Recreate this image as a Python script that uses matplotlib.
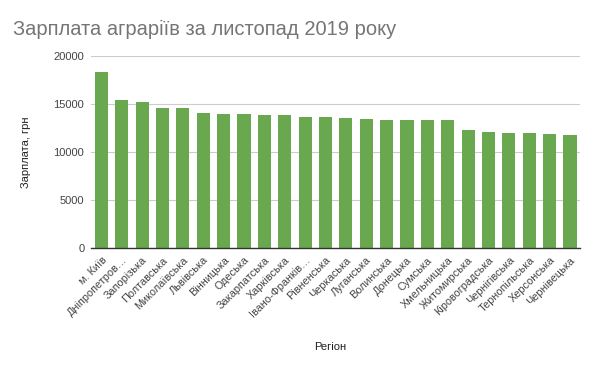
import matplotlib
matplotlib.use("Agg")
import matplotlib.pyplot as plt

regions = ["м. Київ", "Дніпропетров…", "Запорізька", "Полтавська", "Миколаївська",
           "Львівська", "Вінницька", "Одеська", "Закарпатська", "Харківська",
           "Івано-Франків…", "Рівненська", "Черкаська", "Луганська", "Волинська",
           "Донецька", "Сумська", "Хмельницька", "Житомирська", "Кіровоградська",
           "Чернігівська", "Тернопільська", "Херсонська", "Чернівецька"]
salary = [18350, 15450, 15250, 14600, 14600, 14050, 13950, 13950, 13850, 13850,
          13650, 13650, 13550, 13450, 13330, 13330, 13330, 13330, 12300, 12100,
          12000, 12000, 11900, 11800]
yticks = [0, 5000, 10000, 15000, 20000]

plt.rcParams['font.family'] = ['Liberation Sans', 'DejaVu Sans']
fig = plt.figure(figsize=(6, 3.71), dpi=100)
ax = fig.add_axes([0.152, 0.3315, 0.815, 0.5175])
x = list(range(len(regions)))
ax.bar(x, salary, width=0.64, color="#6aa84f", zorder=3)
ax.set_xlim(-0.5, len(regions) - 0.5)
ax.set_ylim(0, 20000)
ax.set_yticks(yticks)
ax.set_yticklabels([str(v) for v in yticks], fontsize=8, color="#444444")
ax.set_xticks(x)
ax.set_xticklabels(regions, rotation=45, ha="right", rotation_mode="anchor",
                   fontsize=7.8, color="#444444")
ax.tick_params(axis="both", length=0, pad=5)
ax.grid(axis="y", color="#cccccc", linewidth=0.8, zorder=0)
for s in ["top", "right", "left"]:
    ax.spines[s].set_visible(False)
ax.spines["bottom"].set_color("#333333")
ax.spines["bottom"].set_linewidth(1.0)
ax.spines["bottom"].set_zorder(4)
ax.set_ylabel("Зарплата, грн", fontsize=8, color="#222222", labelpad=16)
fig.text(0.55, 0.065, "Регіон", fontsize=8, color="#222222", ha="center", va="center")
fig.text(0.022, 0.92, "Зарплата аграріїв за листопад 2019 року", fontsize=14.5,
         color="#757575", ha="left", va="center")
fig.savefig("out.png", dpi=100, facecolor="white")
